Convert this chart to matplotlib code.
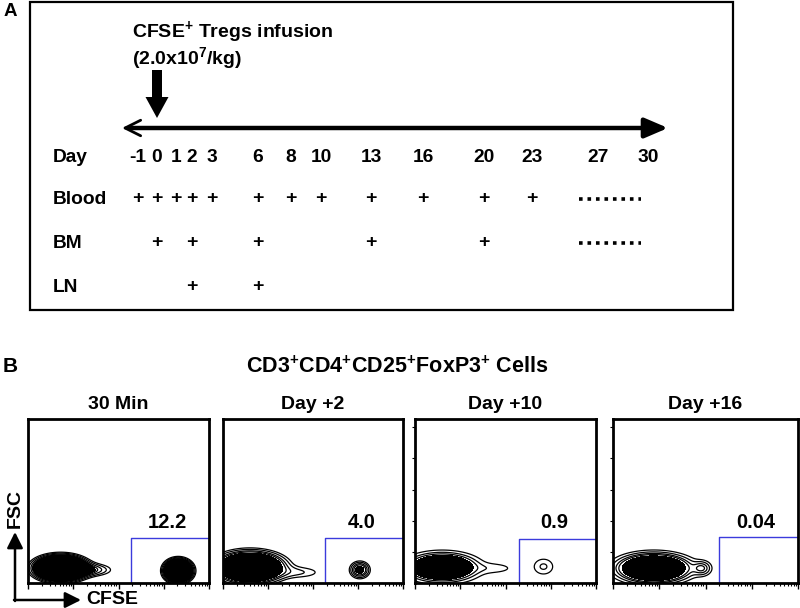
import numpy as np
import matplotlib
matplotlib.use('Agg')
import matplotlib.pyplot as plt
from matplotlib.patches import FancyArrow, Rectangle

plt.rcParams['font.family'] = ['Liberation Sans', 'DejaVu Sans']
plt.rcParams['font.weight'] = 'bold'
plt.rcParams['mathtext.fontset'] = 'custom'
plt.rcParams['mathtext.rm'] = 'Liberation Sans:bold'
plt.rcParams['mathtext.bf'] = 'Liberation Sans:bold'
plt.rcParams['mathtext.it'] = 'Liberation Sans:bold'

#------------------------- panel A data (sampling schedule) -------------------------
days = ['-1', '0', '1', '2', '3', '6', '8', '10', '13', '16', '20', '23', '27', '30']
blood_days = ['-1', '0', '1', '2', '3', '6', '8', '10', '13', '16', '20', '23']
bm_days = ['0', '2', '6', '13', '20']
ln_days = ['2', '6']
rows = ['Day', 'Blood', 'BM', 'LN']
dotted_rows = ['Blood', 'BM']   # "......" after day 23

#------------------------- panel B data (flow plots) -------------------------
titles = ['30 Min', 'Day +2', 'Day +10', 'Day +16']
gate_pct = ['12.2', '4.0', '0.9', '0.04']
gate_left = [0.57, 0.567, 0.575, 0.573]
gate_top = [0.276, 0.276, 0.27, 0.283]
# populations: (cx, cy, sx, sy, weight) in fraction of plot
pops = [
    [(0.18, 0.09, 0.07, 0.037, 1.0), (0.35, 0.08, 0.075, 0.025, 0.08), (0.83, 0.075, 0.037, 0.033, 1.0)],
    [(0.15, 0.095, 0.09, 0.045, 1.0), (0.42, 0.065, 0.09, 0.025, 0.05), (0.76, 0.08, 0.03, 0.028, 0.2)],
    [(0.15, 0.095, 0.09, 0.04, 1.0), (0.43, 0.09, 0.08, 0.022, 0.05), (0.71, 0.1, 0.036, 0.032, 0.08)],
    [(0.22, 0.09, 0.095, 0.042, 1.0), (0.48, 0.09, 0.03, 0.026, 0.14)],
]
core_level = [0.1, 0.15, 0.18, 0.2]
ring_levels = [[0.03, 0.045, 0.065, 0.085],
               [0.03, 0.05, 0.08, 0.11],
               [0.03, 0.07, 0.12],
               [0.03, 0.06, 0.1, 0.14]]

fig = plt.figure(figsize=(8, 6.08), dpi=100)

#------------------------------ panel A ------------------------------
ov = fig.add_axes([0, 0, 1, 1])
ov.set_xlim(0, 800)
ov.set_ylim(608, 0)
ov.set_axis_off()

col_x = [138, 157, 176, 192, 212, 258, 291, 321, 371, 423, 484, 532, 598, 648]
row_y = {'Day': 157, 'Blood': 199, 'BM': 243, 'LN': 287}
xpos = dict(zip(days, col_x))

ov.add_patch(Rectangle((30, 2), 703, 308, fill=False, lw=1.6, ec='k'))
ov.text(4, 12, 'A', fontsize=13.5, va='center', ha='left')
ov.text(132, 32, r'CFSE$^{+}$ Tregs infusion', fontsize=14, va='center', ha='left')
ov.text(132, 58, r'(2.0x10$^{7}$/kg)', fontsize=14, va='center', ha='left')
ov.add_patch(FancyArrow(157, 70, 0, 48, width=10, head_width=23, head_length=21,
                        length_includes_head=True, color='k', lw=0))

# time line
ov.annotate('', xy=(668, 128), xytext=(130, 128),
            arrowprops=dict(arrowstyle='-|>,head_length=1.4,head_width=0.6', lw=3.2,
                            color='k', shrinkA=0, shrinkB=0, mutation_scale=10))
ov.annotate('', xy=(122, 128), xytext=(140, 128),
            arrowprops=dict(arrowstyle='->,head_length=0.7,head_width=0.35', lw=2,
                            color='k', shrinkA=0, shrinkB=0, mutation_scale=16))

for r in rows:
    ov.text(53, row_y[r], r, fontsize=13.8, va='center', ha='left')
for d in days:
    ov.text(xpos[d], row_y['Day'], d, fontsize=13.8, va='center', ha='center')
for r, dd in [('Blood', blood_days), ('BM', bm_days), ('LN', ln_days)]:
    for d in dd:
        ov.text(xpos[d], row_y[r], '+', fontsize=14, va='center', ha='center')
for r in dotted_rows:
    ov.plot([579, 641], [row_y[r], row_y[r]], color='k', lw=2.6, ls=(0, (1, 1.35)))

#------------------------------ panel B ------------------------------
ov.text(3, 367, 'B', fontsize=15, va='center', ha='left')
ov.text(397, 367, r'CD3$^{+}$CD4$^{+}$CD25$^{+}$FoxP3$^{+}$ Cells', fontsize=15.5,
        va='center', ha='center')

box_left = [28, 223, 415, 613]
box_right = [209, 403, 596, 798]
box_top = 419
box_bottom = 583

xs = np.linspace(0, 1, 400)
X, Y = np.meshgrid(xs, xs)
log_minor = np.log10(np.arange(2, 10))
minor = np.concatenate([0.25 * (d + log_minor) for d in range(4)])

for i in range(4):
    ax = fig.add_axes([box_left[i] / 800, 1 - box_bottom / 608,
                       (box_right[i] - box_left[i]) / 800, (box_bottom - box_top) / 608])
    Z = np.zeros_like(X)
    for cx, cy, sx, sy, w in pops[i]:
        Z += w * np.exp(-0.5 * ((X - cx) / sx) ** 2 - 0.5 * ((Y - cy) / sy) ** 2)
    ax.contourf(X, Y, Z, levels=[core_level[i], Z.max() + 1], colors='k')
    ax.contour(X, Y, Z, levels=ring_levels[i], colors='k', linewidths=0.9)
    ax.plot([gate_left[i], gate_left[i], 1], [0, gate_top[i], gate_top[i]],
            color='#3b3bdc', lw=1.0)
    ax.text(0.77, 0.37, gate_pct[i], fontsize=14.5, ha='center', va='center',
            transform=ax.transAxes)
    ax.set_xlim(0, 1)
    ax.set_ylim(0, 1)
    for s in ax.spines.values():
        s.set_linewidth(2)
    ax.set_xticks([0, 0.25, 0.5, 0.75, 1.0])
    ax.set_xticks(minor, minor=True)
    ax.tick_params(axis='x', which='major', direction='out', length=4, width=1, labelbottom=False)
    ax.tick_params(axis='x', which='minor', direction='out', length=2.5, width=0.8)
    if i >= 2:
        ax.set_yticks([0.19, 0.38, 0.57, 0.76, 0.95])
        ax.tick_params(axis='y', direction='out', length=2.5, width=0.8, labelleft=False)
    else:
        ax.set_yticks([])
    ax.set_title(titles[i], fontsize=14, fontweight='bold', pad=7)

# FSC / CFSE axis arrows
ov.annotate('', xy=(15, 532), xytext=(15, 601),
            arrowprops=dict(arrowstyle='-|>,head_length=0.8,head_width=0.4', lw=1.8,
                            color='k', shrinkA=0, shrinkB=0, mutation_scale=12))
ov.annotate('', xy=(81, 600), xytext=(14, 600),
            arrowprops=dict(arrowstyle='-|>,head_length=0.8,head_width=0.4', lw=1.8,
                            color='k', shrinkA=0, shrinkB=0, mutation_scale=12))
ov.text(15, 508, 'FSC', fontsize=14, rotation=90, va='center', ha='center')
ov.text(86, 599, 'CFSE', fontsize=14, va='center', ha='left')

fig.savefig('out.png', dpi=100)
